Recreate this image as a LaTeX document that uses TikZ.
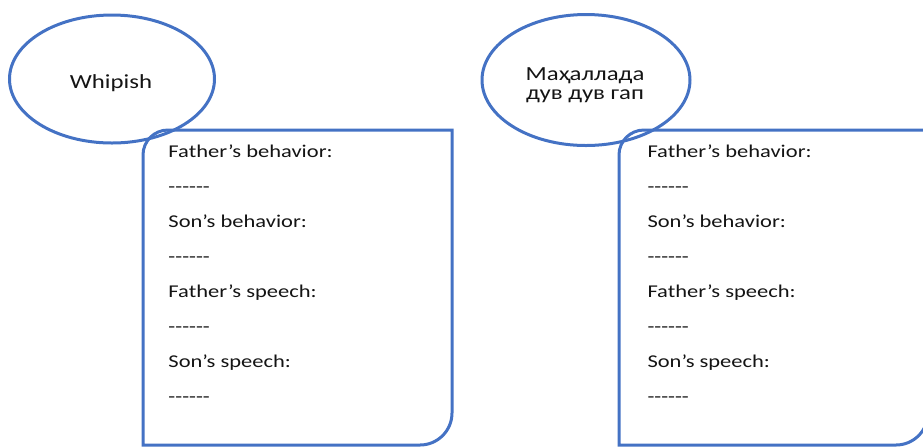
\documentclass[tikz,border=0pt]{standalone}
\usepackage{fontspec}
\setmainfont{Carlito}
\usetikzlibrary{shapes.geometric}

\definecolor{officeblue}{HTML}{4472C4}
\newcommand{\blankline}{-{}-{}-{}-{}-{}-}

\begin{document}
\begin{tikzpicture}[x=0.5pt, y=-0.5pt,
    panel/.style={draw=officeblue, line width=1.5pt},
    bubble/.style={ellipse, draw=officeblue, line width=1.5pt, inner sep=0pt},
    title/.style={font=\fontsize{10}{9.5}\selectfont, text=black!92, xscale=1.24, align=center},
    entry/.style={anchor=base west, inner sep=0pt, font=\fontsize{9}{11}\selectfont, text=black!92, xscale=1.25}]
  \useasboundingbox (0,0) rectangle (923,447);

  % left panel
  \draw[panel] (143,445) -- (143,155) arc[start angle=180, end angle=90, radius=12.5pt]
    -- (452,130) -- (452,413) arc[start angle=0, end angle=-90, radius=16pt] -- cycle;
  \node[bubble, minimum width=102.5pt, minimum height=64pt] (whip) at (112,79) {};
  \node[title] (whiptext) at (111,83) {Whipish};

  \node[entry] (lfb) at (168,157) {Father’s behavior:};
  \node[entry] (lfbd) at (168,192) {\blankline};
  \node[entry] (lsb) at (168,227) {Son’s behavior:};
  \node[entry] (lsbd) at (168,262) {\blankline};
  \node[entry] (lfs) at (168,297) {Father’s speech:};
  \node[entry] (lfsd) at (168,332) {\blankline};
  \node[entry] (lss) at (168,367) {Son’s speech:};
  \node[entry] (lssd) at (168,402) {\blankline};

  % right panel
  \draw[panel] (619,445) -- (619,155) arc[start angle=180, end angle=90, radius=12.5pt]
    -- (928,130) -- (928,413) arc[start angle=0, end angle=-90, radius=16pt] -- cycle;
  \node[bubble, minimum width=104pt, minimum height=65.5pt] (gap) at (586,80) {};
  \node[title] (gaptext) at (585,85) {Маҳаллада\\дув дув гап};

  \node[entry] (rfb) at (647,157) {Father’s behavior:};
  \node[entry] (rfbd) at (647,192) {\blankline};
  \node[entry] (rsb) at (647,227) {Son’s behavior:};
  \node[entry] (rsbd) at (647,262) {\blankline};
  \node[entry] (rfs) at (647,297) {Father’s speech:};
  \node[entry] (rfsd) at (647,332) {\blankline};
  \node[entry] (rss) at (647,367) {Son’s speech:};
  \node[entry] (rssd) at (647,402) {\blankline};
\end{tikzpicture}
\end{document}
